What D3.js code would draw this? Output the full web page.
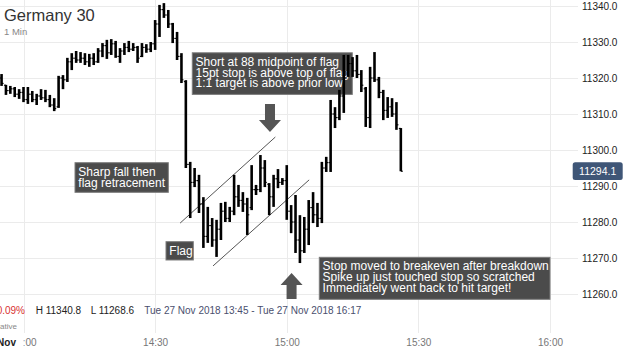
<!DOCTYPE html>
<html lang="en">
<head>
<meta charset="UTF-8">
<title>Germany 30 - 1 Min</title>
<script src="https://d3js.org/d3.v7.min.js"></script>
<style>
  body { margin: 0; padding: 0; background: #fff; font-family: "Liberation Sans", Arial, sans-serif; }
  svg { display: block; }
  .grid line { stroke: #ebebeb; shape-rendering: crispEdges; }
  .grid path, .axis path { display: none; }
  .note-box { fill: #4b4b4b; stroke: #7c7c7c; stroke-width: 1; }
  .note-text { fill: #fff; font-size: 12px; }
</style>
</head>
<body>
<div id="chart"></div>
<script>
  // 1-minute bars, first bar at 13:55
  const startTime = "2018-11-27 13:55";

  const openPx = [
    11320, 11318, 11316.5, 11317, 11315.5, 11316, 11314, 11315.5, 11314, 11315,
    11314.5, 11314, 11312.5, 11312, 11320, 11319.5, 11324.5, 11325.5, 11325, 11325.5,
    11324.5, 11325.5, 11324.5, 11327.5, 11329, 11327, 11329.5, 11326, 11327.5, 11328.5,
    11328, 11328.5, 11326, 11328.5, 11328, 11329.5, 11335, 11339, 11337.5, 11335,
    11331, 11326, 11319, 11296, 11291, 11291.5, 11285, 11276, 11279, 11275,
    11278, 11283, 11281, 11283, 11287, 11286, 11285, 11284, 11289, 11289,
    11295, 11290.5, 11287, 11292, 11291, 11291.5, 11283, 11280, 11275, 11272,
    11278, 11284, 11282, 11281, 11295, 11296.5, 11310, 11309, 11315, 11322,
    11324, 11322, 11321, 11317, 11309, 11320, 11319.5, 11316, 11311, 11312,
    11310, 11306
  ];
  const highPx = [
    11321.1, 11318.1, 11317.8, 11317.5, 11316.9, 11317.5, 11317.5, 11316.4, 11315.6, 11316.9,
    11316.7, 11315.3, 11314.4, 11320.6, 11320.8, 11325.6, 11326.9, 11327.5, 11327.2, 11326.9,
    11326.7, 11326.9, 11328.3, 11329.7, 11330.6, 11330.8, 11330.3, 11328.3, 11329.7, 11330.3,
    11329.7, 11328.9, 11329.7, 11329.4, 11330.0, 11336.1, 11340.3, 11340.8, 11338.9, 11335.3,
    11332.8, 11326.9, 11319.4, 11296.7, 11295.0, 11293.1, 11286.9, 11284.2, 11281.1, 11280.6,
    11285.3, 11285.6, 11284.2, 11293.1, 11290.3, 11288.3, 11286.7, 11295.8, 11290.3, 11298.6,
    11297.2, 11290.8, 11293.1, 11294.7, 11292.2, 11295.8, 11284.7, 11287.5, 11281.9, 11281.4,
    11286.1, 11288.3, 11285.3, 11296.7, 11298.1, 11313.9, 11311.9, 11316.7, 11326.4, 11326.4,
    11325.8, 11326.4, 11322.2, 11317.5, 11323.1, 11327.2, 11320.3, 11316.7, 11314.7, 11314.4,
    11313.3, 11306.1
  ];
  const lowPx = [
    11317.8, 11315.3, 11315.6, 11314.7, 11314.2, 11313.3, 11312.8, 11313.3, 11312.5, 11313.9,
    11313.3, 11311.9, 11310.8, 11311.7, 11316.9, 11318.9, 11322.2, 11324.2, 11324.2, 11323.6,
    11323.1, 11323.6, 11324.2, 11325.8, 11325.3, 11326.4, 11325.6, 11324.2, 11326.4, 11327.2,
    11327.5, 11324.2, 11325.8, 11327.0, 11327.2, 11327.8, 11331.4, 11336.7, 11333.9, 11329.7,
    11325.0, 11318.6, 11295.0, 11281.1, 11289.7, 11282.5, 11272.8, 11274.2, 11273.1, 11270.3,
    11275.0, 11280.0, 11280.0, 11281.9, 11284.2, 11282.8, 11276.4, 11283.3, 11287.5, 11288.3,
    11289.7, 11281.9, 11284.2, 11289.4, 11290.3, 11280.6, 11276.9, 11271.4, 11268.6, 11271.4,
    11273.6, 11279.7, 11278.6, 11279.7, 11293.9, 11293.9, 11306.1, 11308.3, 11310.3, 11320.3,
    11320.3, 11320.0, 11316.1, 11306.4, 11306.1, 11318.9, 11314.4, 11308.3, 11308.9, 11309.2,
    11305.6, 11294.1
  ];
  const closePx = [
    11318.5, 11316.5, 11317, 11315.5, 11316, 11314, 11315.5, 11314, 11315, 11314.5,
    11314, 11312.5, 11311.5, 11320, 11319.5, 11324.5, 11325.5, 11325, 11325.5, 11324.5,
    11325.5, 11324.5, 11327.5, 11329, 11327, 11329.5, 11326, 11327.5, 11328.5, 11328,
    11328.5, 11325.5, 11328.5, 11328, 11329.5, 11335, 11339, 11337.5, 11335, 11331,
    11326, 11319.5, 11296, 11291, 11291.5, 11285, 11276, 11279, 11275, 11278,
    11283, 11281, 11283, 11287, 11286, 11285, 11282, 11289, 11289, 11295,
    11291, 11287, 11292, 11291, 11291.5, 11283, 11280, 11275, 11272, 11278,
    11284, 11282, 11281, 11295, 11296.5, 11310, 11309, 11315, 11322, 11324,
    11322, 11321, 11318, 11309, 11320, 11319.5, 11316, 11311, 11312, 11310,
    11307, 11294.1
  ];

  const yTicks = [11260, 11270, 11280, 11290, 11300, 11310, 11320, 11330, 11340];
  const xTicks = ["2018-11-27 14:00", "2018-11-27 14:30", "2018-11-27 15:00", "2018-11-27 15:30", "2018-11-27 16:00"];

  // annotations, anchored in chart space (minutes after 14:00, price)
  const notes = [
    { m: 38.47, p: 11327.0, w: 160, h: 41.6, lines: ["Short at 88 midpoint of flag", "15pt stop is above top of flag", "1:1 target is above prior low"] },
    { m: 11.74, p: 11296.47, w: 93.3, h: 29.6, lines: ["Sharp fall then", "flag retracement"] },
    { m: 32.48, p: 11274.53, w: 27.3, h: 18.3, lines: ["Flag"] },
    { m: 67.42, p: 11270.19, w: 230.7, h: 42, lines: ["Stop moved to breakeven after breakdown", "Spike up just touched stop so scratched", "Immediately went back to hit target!"] }
  ];
  const flagLines = [
    { m1: 35.7, p1: 11279.7, m2: 57.4, p2: 11303.6 },
    { m1: 43.2, p1: 11267.8, m2: 65.1, p2: 11291.7 }
  ];
  const arrows = [
    { m: 56.18, from: 11312.8, to: 11305.0 },
    { m: 61.1, from: 11258.6, to: 11265.8 }
  ];

  const W = 625, H = 351;
  const parseTime = d3.timeParse("%Y-%m-%d %H:%M");
  const t0 = parseTime(startTime);
  const t14 = parseTime("2018-11-27 14:00");
  const atMin = m => new Date(t14.getTime() + m * 60000);

  const bars = closePx.map((c, i) => ({
    t: d3.timeMinute.offset(t0, i), o: openPx[i], h: highPx[i], l: lowPx[i], c: c
  }));

  const x = d3.scaleTime()
    .domain([parseTime(xTicks[0]), parseTime(xTicks[xTicks.length - 1])])
    .range([23.5, 550]);
  const y = d3.scaleLinear().domain([11260, 11340]).range([294, 6]);

  const svg = d3.select("#chart").append("svg")
    .attr("width", W)
    .attr("height", H);

  // grid
  svg.append("g").attr("class", "grid")
    .call(d3.axisLeft(y).tickValues(yTicks).tickSize(-578).tickFormat(""));
  svg.append("g").attr("class", "grid")
    .call(d3.axisTop(x).tickValues(xTicks.map(parseTime)).tickSize(-333).tickFormat(""));

  // title
  svg.append("text").attr("x", 4).attr("y", 20.7)
    .style("font-size", "16.5px").style("fill", "#333").text("Germany 30");
  svg.append("text").attr("x", 4).attr("y", 35)
    .style("font-size", "9.5px").style("fill", "#888").text("1 Min");

  // annotation boxes
  const note = svg.append("g").selectAll("g").data(notes).enter().append("g")
    .attr("transform", d => "translate(" + x(atMin(d.m)) + "," + y(d.p) + ")");
  note.append("rect").attr("class", "note-box")
    .attr("width", d => d.w).attr("height", d => d.h);
  note.append("text").attr("class", "note-text")
    .selectAll("tspan").data(d => d.lines).enter().append("tspan")
    .attr("x", 3.3)
    .attr("y", (d, i) => 12.9 + i * 10.9)
    .text(d => d);

  // flag channel
  svg.append("g").selectAll("line").data(flagLines).enter().append("line")
    .attr("x1", d => x(atMin(d.m1))).attr("y1", d => y(d.p1))
    .attr("x2", d => x(atMin(d.m2))).attr("y2", d => y(d.p2))
    .attr("stroke", "#555").attr("stroke-width", 1);

  // block arrows
  svg.append("g").selectAll("path").data(arrows).enter().append("path")
    .attr("fill", "#555")
    .attr("d", d => {
      const cx = x(atMin(d.m)), y0 = y(d.from), y1 = y(d.to);
      const dir = y1 > y0 ? 1 : -1;
      const hb = y1 - dir * 12;
      return "M" + (cx - 5) + "," + y0 + "L" + (cx + 5) + "," + y0 + "L" + (cx + 5) + "," + hb +
        "L" + (cx + 11) + "," + hb + "L" + cx + "," + y1 + "L" + (cx - 11) + "," + hb +
        "L" + (cx - 5) + "," + hb + "Z";
    });

  // OHLC bars
  const bar = svg.append("g").selectAll("g").data(bars).enter().append("g");
  bar.append("line")
    .attr("x1", d => x(d.t)).attr("x2", d => x(d.t))
    .attr("y1", d => y(d.h)).attr("y2", d => y(d.l))
    .attr("stroke", "#000").attr("stroke-width", 2.6);
  bar.append("line")
    .attr("x1", d => x(d.t) - 2).attr("x2", d => x(d.t))
    .attr("y1", d => y(d.o)).attr("y2", d => y(d.o))
    .attr("stroke", "#000").attr("stroke-width", 1.1);
  bar.append("line")
    .attr("x1", d => x(d.t)).attr("x2", d => x(d.t) + 2)
    .attr("y1", d => y(d.c)).attr("y2", d => y(d.c))
    .attr("stroke", "#000").attr("stroke-width", 1.1);

  // price axis
  const yAxis = svg.append("g").attr("class", "axis")
    .attr("transform", "translate(578,0)")
    .call(d3.axisRight(y).tickValues(yTicks).tickSize(0).tickPadding(4).tickFormat(d3.format(".1f")));
  yAxis.selectAll("text").style("font-size", "10px").style("fill", "#222")
    .style("font-family", "'Liberation Sans', Arial, sans-serif");

  // last price tag
  const last = bars[bars.length - 1];
  svg.append("rect")
    .attr("x", 572.7).attr("y", y(last.c) - 9)
    .attr("width", 50).attr("height", 17.7).attr("rx", 2.5)
    .attr("fill", "#3f5677");
  svg.append("text")
    .attr("x", 597.7).attr("y", y(last.c) + 3.8)
    .attr("text-anchor", "middle")
    .style("font-size", "10.5px").style("fill", "#fff")
    .text(d3.format(".1f")(last.c));

  // time axis
  const xAxis = svg.append("g").attr("class", "axis")
    .attr("transform", "translate(0,336)")
    .call(d3.axisBottom(x).tickValues(xTicks.map(parseTime)).tickSize(0).tickFormat(d3.timeFormat("%H:%M")));
  xAxis.selectAll("text").style("font-size", "10px").style("fill", "#777")
    .style("font-family", "'Liberation Sans', Arial, sans-serif");
  svg.append("rect").attr("x", 0).attr("y", 336).attr("width", 23.5).attr("height", 15).attr("fill", "#fff");
  svg.append("text").attr("x", 16).attr("y", 346).attr("text-anchor", "end")
    .style("font-size", "10px").style("font-weight", "bold").style("fill", "#222").text("27 Nov");

  // info row
  svg.append("text").attr("x", 25).attr("y", 314).attr("text-anchor", "end")
    .style("font-size", "10px").style("fill", "#d83030").text("-0.09%");
  svg.append("text").attr("x", 35.7).attr("y", 314)
    .style("font-size", "10px").style("fill", "#222").text("H 11340.8");
  svg.append("text").attr("x", 90.7).attr("y", 314)
    .style("font-size", "10px").style("fill", "#222").text("L 11268.6");
  svg.append("text").attr("x", 144.3).attr("y", 314)
    .style("font-size", "10px").style("fill", "#4a4f6e")
    .text("Tue 27 Nov 2018 13:45 - Tue 27 Nov 2018 16:17");
  svg.append("text").attr("x", 17).attr("y", 329).attr("text-anchor", "end")
    .style("font-size", "8px").style("fill", "#888").text("Indicative");
</script>
</body>
</html>
